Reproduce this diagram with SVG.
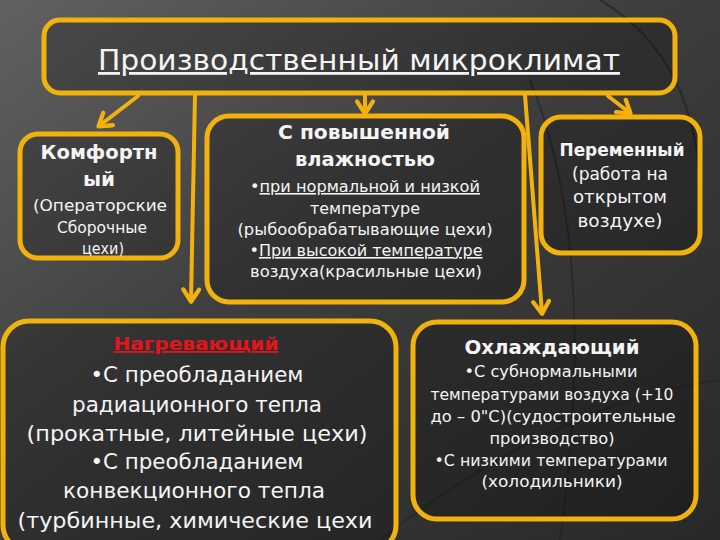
<svg xmlns="http://www.w3.org/2000/svg" width="720" height="540" viewBox="0 0 720 540">
<defs>
<linearGradient id="bg" x1="0" y1="0" x2="1" y2="1">
<stop offset="0" stop-color="#616161"/>
<stop offset="0.45" stop-color="#3e3e3e"/>
<stop offset="1" stop-color="#282828"/>
</linearGradient>
<marker id="ah" viewBox="0 0 14 14" refX="10" refY="7" markerWidth="5" markerHeight="5" orient="auto" markerUnits="strokeWidth">
<path d="M2,1.5 L10.5,7 L2,12.5" fill="none" stroke="#f2b20e" stroke-width="3" stroke-linecap="round" stroke-linejoin="round"/>
</marker>
<style>
.box{fill:#000;fill-opacity:0.22;stroke:#f2b20e;stroke-width:5}
.t{font-family:"DejaVu Sans","Noto Sans",sans-serif;fill:#f4f4f4;text-anchor:middle}
.b{font-weight:bold}
.u{text-decoration:underline}
.c{fill:none;stroke:#f2b20e;stroke-width:4;stroke-linecap:round;marker-end:url(#ah)}
</style>
</defs>
<rect width="720" height="540" fill="url(#bg)"/>
<path d="M600,0 Q700,60 700,200" fill="none" stroke="#1e1e1e" stroke-width="2" opacity="0.6"/>
<path d="M530,80 Q600,250 560,540" fill="none" stroke="#1e1e1e" stroke-width="2" opacity="0.5"/>
<path d="M380,540 Q560,400 720,380" fill="none" stroke="#222" stroke-width="2" opacity="0.5"/>

<g id="connectors">
<path class="c" d="M138,96 L99,126"/>
<path class="c" d="M195,95 L191,301"/>
<path class="c" d="M365,95 L365,113"/>
<path class="c" d="M525,95 L542,313"/>
<path class="c" d="M608,96 L630,113"/>
</g>

<g id="top">
<rect class="box" x="44" y="20" width="631" height="73" rx="16"/>
<text class="t u" x="359" y="70" font-size="28" textLength="522" lengthAdjust="spacingAndGlyphs">Производственный микроклимат</text>
</g>

<g id="comfort">
<rect class="box" x="20" y="134" width="158" height="124" rx="18"/>
<text class="t b" x="99" y="159" font-size="20" textLength="117" lengthAdjust="spacingAndGlyphs">Комфортн</text>
<text class="t b" x="99" y="186" font-size="20">ый</text>
<text class="t" x="100" y="211" font-size="16" textLength="134" lengthAdjust="spacingAndGlyphs">(Операторские</text>
<text class="t" x="102" y="233" font-size="16" textLength="90" lengthAdjust="spacingAndGlyphs">Сборочные</text>
<text class="t" x="103" y="254" font-size="16" textLength="42" lengthAdjust="spacingAndGlyphs">цехи)</text>
</g>

<g id="humid">
<rect class="box" x="207" y="116" width="317" height="186" rx="22"/>
<text class="t b" x="364" y="139" font-size="20" textLength="172" lengthAdjust="spacingAndGlyphs">С повышенной</text>
<text class="t b" x="365" y="166" font-size="20" textLength="140" lengthAdjust="spacingAndGlyphs">влажностью</text>
<text class="t" x="365" y="192" font-size="16" textLength="230" lengthAdjust="spacingAndGlyphs">•<tspan class="u">при нормальной и низкой</tspan></text>
<text class="t" x="365" y="214" font-size="16" textLength="110" lengthAdjust="spacingAndGlyphs">температуре</text>
<text class="t" x="365" y="235" font-size="16" textLength="255" lengthAdjust="spacingAndGlyphs">(рыбообрабатывающие цехи)</text>
<text class="t" x="366" y="256" font-size="16" textLength="233" lengthAdjust="spacingAndGlyphs">•<tspan class="u">При высокой температуре</tspan></text>
<text class="t" x="366" y="277" font-size="16" textLength="232" lengthAdjust="spacingAndGlyphs">воздуха(красильные цехи)</text>
</g>

<g id="variable">
<rect class="box" x="541" y="117" width="159" height="136" rx="20"/>
<text class="t b" x="622" y="156" font-size="17" textLength="125" lengthAdjust="spacingAndGlyphs">Переменный</text>
<text class="t" x="620" y="180" font-size="17" textLength="96" lengthAdjust="spacingAndGlyphs">(работа на</text>
<text class="t" x="620" y="203" font-size="17" textLength="94" lengthAdjust="spacingAndGlyphs">открытом</text>
<text class="t" x="620" y="227" font-size="17" textLength="85" lengthAdjust="spacingAndGlyphs">воздухе)</text>
</g>

<g id="heating">
<rect class="box" x="3" y="321" width="393" height="230" rx="26"/>
<text class="t b u" x="196" y="350" font-size="18" textLength="165" lengthAdjust="spacingAndGlyphs" style="fill:#e4141b">Нагревающий</text>
<text class="t" x="197" y="382" font-size="21" textLength="213" lengthAdjust="spacingAndGlyphs">•С преобладанием</text>
<text class="t" x="197" y="412" font-size="21" textLength="250" lengthAdjust="spacingAndGlyphs">радиационного тепла</text>
<text class="t" x="197" y="441" font-size="21" textLength="341" lengthAdjust="spacingAndGlyphs">(прокатные, литейные цехи)</text>
<text class="t" x="197" y="469" font-size="21" textLength="213" lengthAdjust="spacingAndGlyphs">•С преобладанием</text>
<text class="t" x="194" y="498" font-size="21" textLength="262" lengthAdjust="spacingAndGlyphs">конвекционного тепла</text>
<text class="t" x="195" y="528" font-size="21" textLength="355" lengthAdjust="spacingAndGlyphs">(турбинные, химические цехи</text>
</g>

<g id="cooling">
<rect class="box" x="413" y="322" width="283" height="197" rx="24"/>
<text class="t b" x="552" y="354" font-size="20" textLength="175" lengthAdjust="spacingAndGlyphs">Охлаждающий</text>
<text class="t" x="551" y="377" font-size="15.5" textLength="173" lengthAdjust="spacingAndGlyphs">•С субнормальными</text>
<text class="t" x="552" y="400" font-size="15.5" textLength="243" lengthAdjust="spacingAndGlyphs">температурами воздуха (+10</text>
<text class="t" x="553" y="422" font-size="15.5" textLength="245" lengthAdjust="spacingAndGlyphs">до – 0"С)(судостроительные</text>
<text class="t" x="552" y="444" font-size="15.5" textLength="125" lengthAdjust="spacingAndGlyphs">производство)</text>
<text class="t" x="551" y="466" font-size="15.5" textLength="233" lengthAdjust="spacingAndGlyphs">•С низкими температурами</text>
<text class="t" x="552" y="487" font-size="15.5" textLength="141" lengthAdjust="spacingAndGlyphs">(холодильники)</text>
</g>
</svg>
